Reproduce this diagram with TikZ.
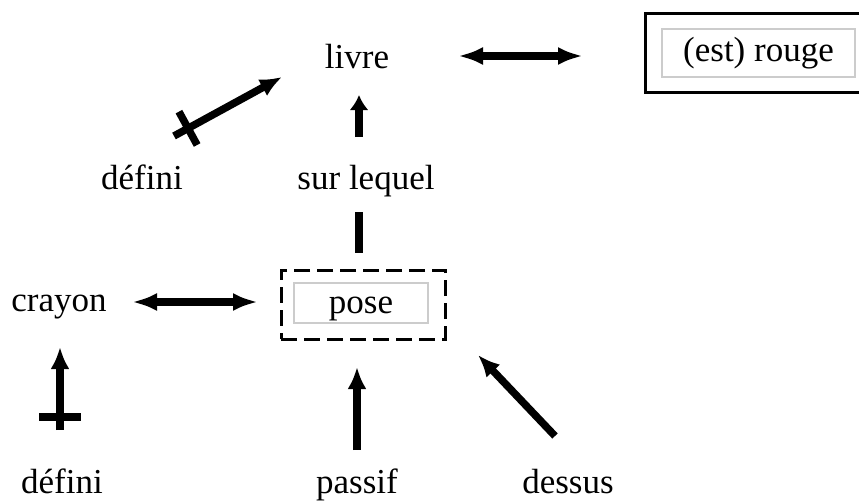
\documentclass[tikz,border=0pt]{standalone}
\usepackage{fontspec}
\setmainfont{Liberation Serif}
\usetikzlibrary{arrows.meta,calc}

\begin{document}
\begin{tikzpicture}
            [x=1pt,y=-1pt,
             every node/.style={font=\fontsize{35}{40}\selectfont,inner sep=0pt},
             word/.style={anchor=base},
             link/.style={line width=7.5pt,-{Latex[length=22pt,width=19pt]}},
             both/.style={line width=7.5pt,{Latex[length=25pt,width=18pt]}-{Latex[length=25pt,width=18pt]}},
             bar/.style={line width=7.5pt},
             frame/.style={draw=gray!40,line width=1.5pt}]
            \clip (0,0) rectangle (859,503);
            \node[word] (livre) at (357,68) {livre};
            \node[word] (defini1) at (142,189) {défini};
            \node[word] (lequel) at (366,189) {sur lequel};
            \node[word] (crayon) at (59,311) {crayon};
            \node[word] (defini2) at (62,493) {défini};
            \node[word] (passif) at (357,493) {passif};
            \node[word] (dessus) at (568,493) {dessus};
            
            % boxes
            \node[frame,minimum width=134pt,minimum height=40pt,
                  text height=24pt,text depth=4pt] (pose) at (361,303) {pose};
            \node[draw,line width=3pt,dash pattern=on 16pt off 7pt,
                  minimum width=164pt,minimum height=69pt] (posebox) at (363,304.5) {};
            \node[frame,minimum width=193pt,minimum height=48pt,
                  text height=24pt,text depth=6pt] (rouge) at (758.5,53) {(est) rouge};
            \draw[line width=3pt] (645,14) rectangle (880,92);
            
            % free ends
            \coordinate (r1) at (458,56);
            \coordinate (r2) at (583,56);
            \coordinate (c1) at (132,302);
            \coordinate (c2) at (258,302);
            \coordinate (l1) at (359,137);
            \coordinate (l2) at (359,95);
            \coordinate (s1) at (359,212);
            \coordinate (s2) at (359,253);
            \coordinate (d1) at (174,136);
            \coordinate (d2) at (282,77);
            \coordinate (e1) at (60,430);
            \coordinate (e2) at (60,347);
            \coordinate (p1) at (357,450);
            \coordinate (p2) at (357,367);
            \coordinate (u1) at (555,436);
            \coordinate (u2) at (478,355);
            
            % links
            \draw[both] (r1) -- (r2);
            \draw[both] (c1) -- (c2);
            \draw[link,-{Latex[length=15pt,width=19pt]}] (l1) -- (l2);
            \draw[bar,line width=8.5pt] (s1) -- (s2);
            \draw[link] (p1) -- (p2);
            \draw[link] (u1) -- (u2);
            
            % negated links
            \draw[link] (d1) -- (d2);
            \coordinate (dx) at ($(d1)!16pt!(d2)$);
            \draw[bar] ($(dx)!19pt!90:(d2)$) -- ($(dx)!19pt!-90:(d2)$);
            \draw[link] (e1) -- (e2);
            \coordinate (ex) at ($(e1)!13pt!(e2)$);
            \draw[bar] ($(ex)!21pt!90:(e2)$) -- ($(ex)!21pt!-90:(e2)$);
        \end{tikzpicture}
\end{document}
